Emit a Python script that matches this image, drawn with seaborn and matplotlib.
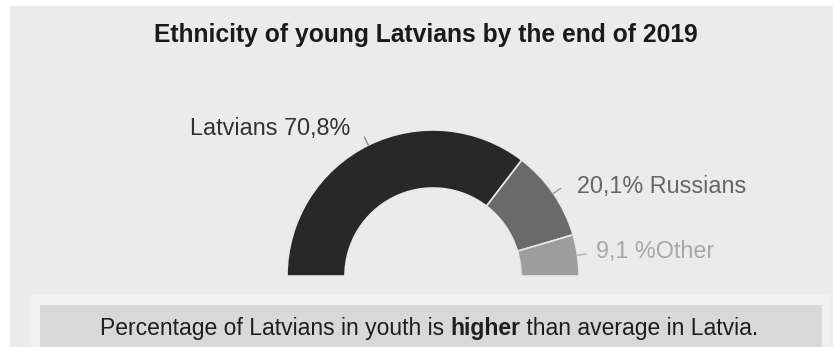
import numpy as np
import matplotlib
matplotlib.use("Agg")
import matplotlib.pyplot as plt
from matplotlib.patches import Rectangle
import seaborn as sns

# Data
groups = ["Latvians", "Russians", "Other"]
shares = [70.8, 20.1, 9.1]
title = "Ethnicity of young Latvians by the end of 2019"
note_parts = ["Percentage of Latvians in youth is ", "higher", " than average in Latvia."]

sns.set_theme(style="white")
plt.rcParams["font.family"] = ["Liberation Sans", "DejaVu Sans"]

W, H = 833, 347
fig = plt.figure(figsize=(W / 100, H / 100), dpi=100, facecolor="white")
ax = fig.add_axes([0, 0, 1, 1])


def Y(y):
    """Convert a top-down pixel row to the axes' bottom-up coordinate."""
    return H - y


# Panel backgrounds
ax.add_patch(Rectangle((10, Y(H)), W - 10, H - 6, facecolor="#ebebeb", edgecolor="none", zorder=0))
ax.add_patch(Rectangle((30, Y(H)), 800, H - 295, facecolor="#f1f1f1", edgecolor="none", zorder=0.5))
ax.add_patch(Rectangle((40, Y(H)), 782, H - 305, facecolor="#d8d8d8", edgecolor="none", zorder=0.6))

# Half-donut: a hidden wedge equal to the total fills the lower half
palette = sns.color_palette(["#282828", "#6a6a6a", "#9d9d9d"])
cx, cy, R, ring = 433, Y(276), 146, 58
wedges, _ = ax.pie(
    shares + [sum(shares)],
    colors=list(palette) + ["none"],
    startangle=180,
    counterclock=False,
    radius=R,
    center=(cx, cy),
    wedgeprops=dict(width=ring, edgecolor="#e8e8e8", linewidth=1.2),
)
wedges[-1].set_visible(False)
for w in wedges:
    w.set_zorder(2)

# Labels with short radial leader lines
total = 2 * sum(shares)
fmt = lambda v: f"{v:.1f}".replace(".", ",")
label_texts = [
    f"{groups[0]} {fmt(shares[0])}%",
    f"{fmt(shares[1])}% {groups[1]}",
    f"{fmt(shares[2])} %{groups[2]}",
]
text_colors = ["#333333", "#666666", "#a8a8a8"]
line_colors = ["#8a8a8a", "#9a9a9a", "#b0b0b0"]
text_pos = [(350, Y(135), "right"), (577, Y(193), "left"), (596, Y(258), "left")]

start = 180.0
for i, v in enumerate(shares):
    span = v / total * 360
    mid = np.deg2rad(start - span / 2)
    start -= span
    x0, y0 = cx + R * np.cos(mid), cy + R * np.sin(mid)
    x1, y1 = cx + (R + 9) * np.cos(mid), cy + (R + 9) * np.sin(mid)
    ax.plot([x0, x1], [y0, y1], color=line_colors[i], lw=1, zorder=3)
    tx, ty, ha = text_pos[i]
    ax.text(tx, ty, label_texts[i], ha=ha, va="baseline", fontsize=16.8,
            color=text_colors[i], zorder=4)

# Title
ax.text(426, Y(42), title, ha="center", va="baseline", fontsize=17.7,
        fontweight="bold", color="#1a1a1a")

# Footer note with a bold word
fs = 16.5
renderer = fig.canvas.get_renderer()
pieces = []
for j, part in enumerate(note_parts):
    t = ax.text(0, Y(335), part, ha="left", va="baseline", fontsize=fs,
                fontweight="bold" if j == 1 else "normal", color="#1e1e1e", zorder=4)
    pieces.append(t)
widths = [p.get_window_extent(renderer).width for p in pieces]
x = 429 - sum(widths) / 2
for p, w in zip(pieces, widths):
    p.set_x(x)
    x += w

ax.set_xlim(0, W)
ax.set_ylim(0, H)
ax.set_aspect("equal")
ax.axis("off")

fig.savefig("out.png", dpi=100, facecolor="white")
